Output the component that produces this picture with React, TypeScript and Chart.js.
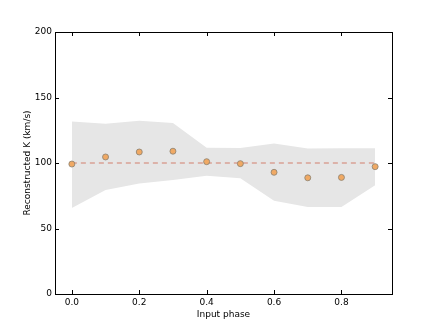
import React, { useEffect, useRef } from "react";
import { Chart, registerables } from "chart.js";

Chart.register(...registerables);

const phases = [0.0, 0.1, 0.2, 0.3, 0.4, 0.5, 0.6, 0.7, 0.8, 0.9];
const kValues = [99.2, 104.6, 108.4, 109.0, 101.0, 99.5, 92.9, 88.7, 89.0, 97.2];
const bandUpper = [131.7, 129.9, 132.2, 130.5, 111.7, 111.5, 114.8, 111.0, 111.3, 111.3];
const bandLower = [65.7, 79.3, 84.4, 87.0, 90.3, 88.3, 71.1, 66.5, 66.5, 83.1];
const trueK = 100;
const xTicks = [0.0, 0.2, 0.4, 0.6, 0.8];
const yTicks = [0, 50, 100, 150, 200];

const FONT = "'DejaVu Sans', sans-serif";

const frame = {
  id: "frame",
  afterDatasetsDraw(chart: any) {
    const { ctx, chartArea: a, scales } = chart;
    ctx.save();
    ctx.strokeStyle = "#000";
    ctx.lineWidth = 1;
    ctx.beginPath();
    const L = 4;
    for (const t of yTicks) {
      const y = Math.round(scales.y.getPixelForValue(t)) + 0.5;
      ctx.moveTo(a.left, y); ctx.lineTo(a.left + L, y);
      ctx.moveTo(a.right, y); ctx.lineTo(a.right - L, y);
    }
    for (const t of xTicks) {
      const x = Math.round(scales.x.getPixelForValue(t)) + 0.5;
      ctx.moveTo(x, a.bottom); ctx.lineTo(x, a.bottom - L);
      ctx.moveTo(x, a.top); ctx.lineTo(x, a.top + L);
    }
    ctx.stroke();
    ctx.strokeRect(Math.round(a.left) + 0.5, Math.round(a.top) + 0.5, Math.round(a.right - a.left), Math.round(a.bottom - a.top));
    ctx.restore();
  },
};

export default function App() {
  const ref = useRef<HTMLCanvasElement>(null);
  useEffect(() => {
    document.body.style.margin = "0";
    const chart = new Chart(ref.current!, {
      type: "scatter",
      data: {
        datasets: [
          {
            label: "K",
            data: phases.map((p, i) => ({ x: p, y: kValues[i] })),
            backgroundColor: "#f0a964",
            borderColor: "#8a8070",
            borderWidth: 0.8,
            pointRadius: 3,
            order: 0,
          },
          {
            label: "true",
            data: [{ x: phases[0], y: trueK }, { x: phases[phases.length - 1], y: trueK }],
            showLine: true,
            borderColor: "#d27e6c",
            borderWidth: 1,
            borderDash: [5, 4],
            pointRadius: 0,
            order: 1,
          },
          {
            label: "lower",
            data: phases.map((p, i) => ({ x: p, y: bandLower[i] })),
            showLine: true,
            borderWidth: 0,
            borderColor: "rgba(0,0,0,0)",
            pointRadius: 0,
            fill: false,
            order: 3,
          },
          {
            label: "upper",
            data: phases.map((p, i) => ({ x: p, y: bandUpper[i] })),
            showLine: true,
            borderWidth: 0,
            borderColor: "rgba(0,0,0,0)",
            backgroundColor: "#e6e6e6",
            pointRadius: 0,
            fill: "-1",
            order: 2,
          },
        ],
      },
      options: {
        animation: false,
        responsive: false,
        events: [],
        layout: { padding: { top: 32, right: 44, left: 0, bottom: 0 } },
        plugins: { legend: { display: false }, tooltip: { enabled: false } },
        scales: {
          x: {
            type: "linear",
            min: -0.05,
            max: 0.95,
            afterBuildTicks: (s: any) => { s.ticks = xTicks.map((v) => ({ value: v })); },
            afterFit: (s: any) => { s.height = 33; },
            grid: { display: false, drawTicks: false },
            border: { display: false },
            ticks: {
              color: "#000",
              font: { family: FONT, size: 9 },
              padding: 3,
              maxRotation: 0,
              callback: (v: any) => Number(v).toFixed(1),
            },
            title: {
              display: true,
              text: "Input phase",
              color: "#000",
              font: { family: FONT, size: 9 },
              padding: { top: 0, bottom: 7 },
            },
          },
          y: {
            type: "linear",
            min: 0,
            max: 200,
            afterBuildTicks: (s: any) => { s.ticks = yTicks.map((v) => ({ value: v })); },
            afterFit: (s: any) => { s.width = 55; },
            grid: { display: false, drawTicks: false },
            border: { display: false },
            ticks: {
              color: "#000",
              font: { family: FONT, size: 9 },
              padding: 3,
            },
            title: {
              display: true,
              text: "Reconstructed K (km/s)",
              color: "#000",
              font: { family: FONT, size: 9 },
              padding: { top: 22, bottom: 0 },
            },
          },
        },
      },
      plugins: [frame],
    });
    return () => chart.destroy();
  }, []);
  return <canvas ref={ref} width={436} height={327} style={{ display: "block", width: 436, height: 327 }} />;
}
